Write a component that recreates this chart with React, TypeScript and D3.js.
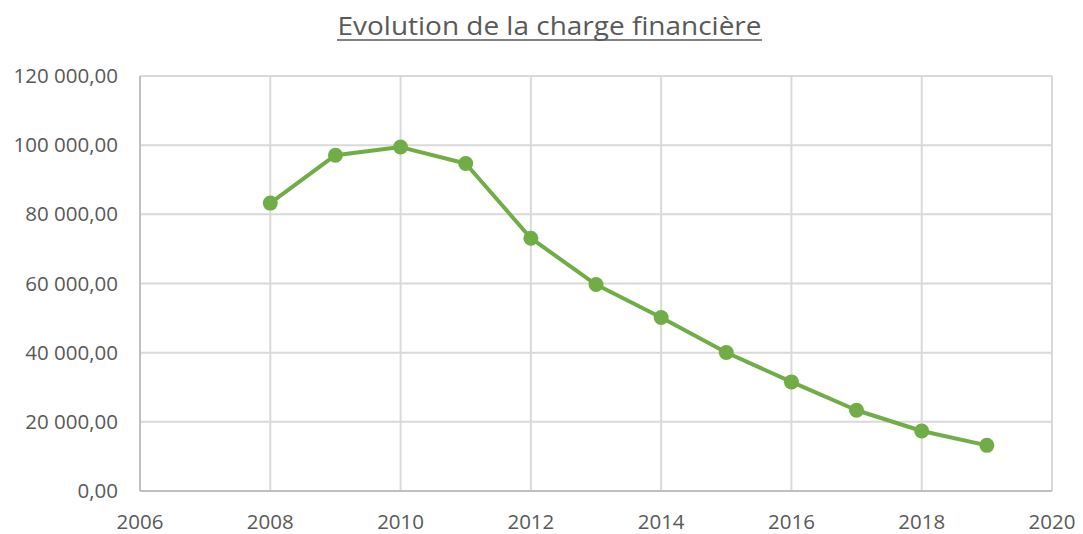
import React from "react";
import * as d3 from "d3";

const years = [2008, 2009, 2010, 2011, 2012, 2013, 2014, 2015, 2016, 2017, 2018, 2019];
const values = [83250, 97100, 99450, 94700, 73100, 59700, 50150, 40050, 31550, 23350, 17350, 13200];
const yTicks = [0, 20000, 40000, 60000, 80000, 100000, 120000];
const xTicks = [2006, 2008, 2010, 2012, 2014, 2016, 2018, 2020];
const title = "Evolution de la charge financière";

const W = 1083, H = 534;
const left = 140, right = 1052, top = 76, bottom = 491;

const fmt = (v: number) => {
  const s = Math.round(v).toString().replace(/\B(?=(\d{3})+(?!\d))/g, " ");
  return s + ",00";
};

export default function App() {
  const x = d3.scaleLinear().domain([2006, 2020]).range([left, right]);
  const y = d3.scaleLinear().domain([0, 120000]).range([bottom, top]);
  const line = d3
    .line<number>()
    .x((_, i) => x(years[i]))
    .y((d) => y(d))
    .curve(d3.curveLinear);
  const font = "'Open Sans', 'Liberation Sans', sans-serif";
  return (
    <svg width={W} height={H} style={{ position: "absolute", left: 0, top: 0, background: "#fff" }}>
      <rect width={W} height={H} fill="#fff" />
      <text x={549.5} y={35} textAnchor="middle" fontFamily={font} fontSize={25} fill="#595959" textLength={424} lengthAdjust="spacingAndGlyphs">
        {title}
      </text>
      <line x1={337} x2={762} y1={40} y2={40} stroke="#595959" strokeWidth={1.5} />
      {yTicks.map((t) => (
        <g key={"y" + t}>
          <line x1={left} x2={right} y1={y(t)} y2={y(t)} stroke="#d9d9d9" strokeWidth={2} />
          <text x={118} y={y(t) + 7} textAnchor="end" fontFamily={font} fontSize={20.5} fill="#595959">
            {fmt(t)}
          </text>
        </g>
      ))}
      {xTicks.map((t) => (
        <g key={"x" + t}>
          <line x1={x(t)} x2={x(t)} y1={top} y2={bottom} stroke="#d9d9d9" strokeWidth={2} />
          <text x={x(t)} y={529} textAnchor="middle" fontFamily={font} fontSize={20.5} fill="#595959">
            {t}
          </text>
        </g>
      ))}
      <line x1={left} x2={right} y1={bottom} y2={bottom} stroke="#bfbfbf" strokeWidth={2} />
      <line x1={left} x2={left} y1={top} y2={bottom} stroke="#bfbfbf" strokeWidth={2} />
      <path d={line(values) || ""} fill="none" stroke="#70ad47" strokeWidth={4} strokeLinejoin="round" />
      {values.map((v, i) => (
        <circle key={i} cx={x(years[i])} cy={y(v)} r={7.5} fill="#70ad47" />
      ))}
    </svg>
  );
}
